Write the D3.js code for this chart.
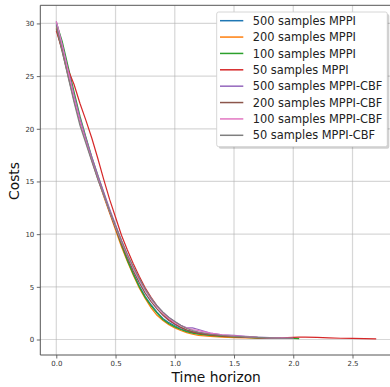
<!DOCTYPE html>
<html>
<head>
<meta charset="utf-8">
<script src="https://cdn.jsdelivr.net/npm/d3@7"></script>
<style>
  html, body { margin: 0; padding: 0; background: #fff; }
  svg { display: block; font-family: "DejaVu Sans", sans-serif; }
</style>
</head>
<body>
<svg id="chart" width="390" height="387"></svg>
<script>
// sample times (s), each series uses the first n of them
const times = [0, 0.05, 0.1, 0.15, 0.2, 0.25, 0.3, 0.35, 0.4, 0.45, 0.5, 0.55, 0.6, 0.65, 0.7, 0.75,
  0.8, 0.85, 0.9, 0.95, 1.0, 1.05, 1.1, 1.15, 1.2, 1.3, 1.4, 1.5, 1.6, 1.7, 1.8, 1.9, 2.0, 2.05,
  2.1, 2.2, 2.3, 2.4, 2.5, 2.6, 2.7];

const seriesNames = ["500 samples MPPI", "200 samples MPPI", "100 samples MPPI", "50 samples MPPI",
  "500 samples MPPI-CBF", "200 samples MPPI-CBF", "100 samples MPPI-CBF", "50 samples MPPI-CBF"];

const cost500 = [29.9, 27.7, 25.3, 23.0, 20.9, 19.0, 17.1, 15.4, 13.8, 12.2, 10.6, 9.0, 7.6, 6.3, 5.1, 4.1,
  3.3, 2.6, 2.0, 1.6, 1.3, 1.0, 0.8, 0.65, 0.55, 0.4, 0.3, 0.25, 0.2, 0.15, 0.12, 0.1];
const cost200 = [29.6, 27.5, 25.2, 22.9, 20.8, 18.9, 17.0, 15.3, 13.6, 12.0, 10.4, 8.8, 7.4, 6.1, 4.9, 3.9,
  3.0, 2.3, 1.8, 1.4, 1.1, 0.85, 0.65, 0.5, 0.4, 0.3, 0.22, 0.18, 0.15, 0.12, 0.1];
const cost100 = [30.1, 28.3, 25.9, 23.5, 21.2, 19.2, 17.3, 15.6, 13.9, 12.2, 10.6, 9.0, 7.5, 6.2, 5.0, 4.0,
  3.2, 2.5, 1.9, 1.5, 1.2, 0.95, 0.75, 0.6, 0.5, 0.38, 0.3, 0.25, 0.2, 0.15, 0.12, 0.1, 0.1, 0.08];
const cost50 = [29.3, 27.5, 25.6, 24.2, 22.4, 20.8, 19.1, 17.2, 15.2, 13.3, 11.6, 9.9, 8.5, 7.2, 6.0, 4.9,
  4.0, 3.2, 2.5, 1.9, 1.5, 1.15, 0.9, 0.72, 0.6, 0.45, 0.35, 0.28, 0.22, 0.18, 0.15, 0.15, 0.2, 0.22,
  0.22, 0.2, 0.15, 0.12, 0.1, 0.08, 0.06];
const cbf500 = [30.2, 28.0, 25.6, 23.2, 21.0, 19.1, 17.3, 15.6, 14.0, 12.4, 10.9, 9.4, 8.0, 6.8, 5.7, 4.7,
  3.9, 3.2, 2.6, 2.1, 1.7, 1.35, 1.1, 1.1, 0.95, 0.6, 0.45, 0.4, 0.3, 0.22, 0.18, 0.14, 0.12];
const cbf200 = [29.5, 27.3, 25.0, 22.7, 20.6, 18.8, 17.0, 15.3, 13.7, 12.1, 10.6, 9.1, 7.8, 6.5, 5.4, 4.4,
  3.6, 2.9, 2.3, 1.8, 1.45, 1.15, 0.9, 0.75, 0.65, 0.5, 0.38, 0.3, 0.22, 0.18, 0.14, 0.12];
const cbf100 = [30.2, 27.9, 25.4, 22.9, 20.7, 18.8, 17.0, 15.3, 13.7, 12.2, 10.7, 9.3, 8.0, 6.8, 5.7, 4.7,
  3.8, 3.1, 2.5, 2.0, 1.6, 1.3, 1.1, 0.95, 0.85, 0.6, 0.45, 0.35, 0.28, 0.2, 0.16, 0.14, 0.12];
const cbf50 = [29.8, 27.4, 24.9, 22.5, 20.3, 18.6, 16.9, 15.2, 13.7, 12.2, 10.8, 9.4, 8.1, 6.9, 5.8, 4.8,
  3.9, 3.2, 2.6, 2.1, 1.7, 1.35, 1.05, 0.85, 0.7, 0.5, 0.38, 0.3, 0.25, 0.2, 0.15, 0.12, 0.1];

const xTicks = [0.0, 0.5, 1.0, 1.5, 2.0, 2.5];
const yTicks = [0, 5, 10, 15, 20, 25, 30];

const allCosts = [cost500, cost200, cost100, cost50, cbf500, cbf200, cbf100, cbf50];
const colors = ["#1f77b4", "#ff7f0e", "#2ca02c", "#d62728", "#9467bd", "#8c564b", "#e377c2", "#7f7f7f"];

const plotLeft = 40.3, plotRight = 392.2, plotTop = 5.3, plotBottom = 355;

const svg = d3.select("#chart");

const x = d3.scaleLinear().domain([-0.135, 2.835]).range([plotLeft, plotRight]);
const y = d3.scaleLinear().domain([-1.47, 31.72]).range([plotBottom, plotTop]);

// grid
const grid = svg.append("g");
grid.selectAll("line.gx").data(xTicks).join("line")
  .attr("x1", d => x(d)).attr("x2", d => x(d))
  .attr("y1", plotTop).attr("y2", plotBottom)
  .attr("stroke", "#b0b0b0").attr("stroke-opacity", 0.5).attr("stroke-width", 1.2);
grid.selectAll("line.gy").data(yTicks).join("line")
  .attr("x1", plotLeft).attr("x2", plotRight)
  .attr("y1", d => y(d)).attr("y2", d => y(d))
  .attr("stroke", "#b0b0b0").attr("stroke-opacity", 0.5).attr("stroke-width", 1.2);

// lines
const line = d3.line().x((d, i) => x(times[i])).y(d => y(d));
svg.append("g").selectAll("path").data(allCosts).join("path")
  .attr("d", d => line(d))
  .attr("fill", "none")
  .attr("stroke", (d, i) => colors[i])
  .attr("stroke-width", 1.2)
  .attr("stroke-linejoin", "round");

// axes
const xAxis = svg.append("g")
  .attr("transform", `translate(0,${plotBottom})`)
  .call(d3.axisBottom(x).tickValues(xTicks).tickFormat(d3.format(".1f")).tickSize(3.5).tickPadding(2.5));
const yAxis = svg.append("g")
  .attr("transform", `translate(${plotLeft},0)`)
  .call(d3.axisLeft(y).tickValues(yTicks).tickSize(3.5).tickPadding(2.5));
[xAxis, yAxis].forEach(a => {
  a.select(".domain").remove();
  a.selectAll(".tick line").attr("stroke", "#444").attr("stroke-width", 0.8);
  a.selectAll(".tick text").attr("fill", "#333").style("font-size", "7px")
    .style("font-family", "DejaVu Sans");
});

// spines (the right one falls outside the picture)
svg.append("path")
  .attr("d", `M${plotLeft},${plotTop}H${plotRight}M${plotLeft},${plotTop}V${plotBottom}H${plotRight}`)
  .attr("fill", "none").attr("stroke", "#555").attr("stroke-width", 1);

svg.append("text")
  .attr("x", 216.2).attr("y", 382)
  .attr("text-anchor", "middle")
  .style("font-size", "13.8px").attr("fill", "#111")
  .text("Time horizon");
svg.append("text")
  .attr("transform", "translate(18.5,181) rotate(-90)")
  .attr("text-anchor", "middle")
  .style("font-size", "13.8px").attr("fill", "#111")
  .text("Costs");

// legend
const lg = svg.append("g");
lg.append("rect")
  .attr("x", 218.7).attr("y", 14).attr("width", 170.6).attr("height", 134.7)
  .attr("rx", 2).attr("fill", "#000").attr("opacity", 0.18);
lg.append("rect")
  .attr("x", 216.7).attr("y", 12).attr("width", 170.6).attr("height", 134.7)
  .attr("rx", 2).attr("fill", "#fff").attr("stroke", "#cccccc").attr("stroke-width", 0.8);
const rows = lg.selectAll("g.row").data(seriesNames).join("g")
  .attr("transform", (d, i) => `translate(0,${20.7 + i * 16.37})`);
rows.append("line")
  .attr("x1", 220).attr("x2", 243.3)
  .attr("stroke", (d, i) => colors[i]).attr("stroke-width", 1.5);
rows.append("text")
  .attr("x", 252.7).attr("dy", "0.36em")
  .style("font-size", "11.4px").attr("fill", "#222")
  .text(d => d);
</script>
</body>
</html>
